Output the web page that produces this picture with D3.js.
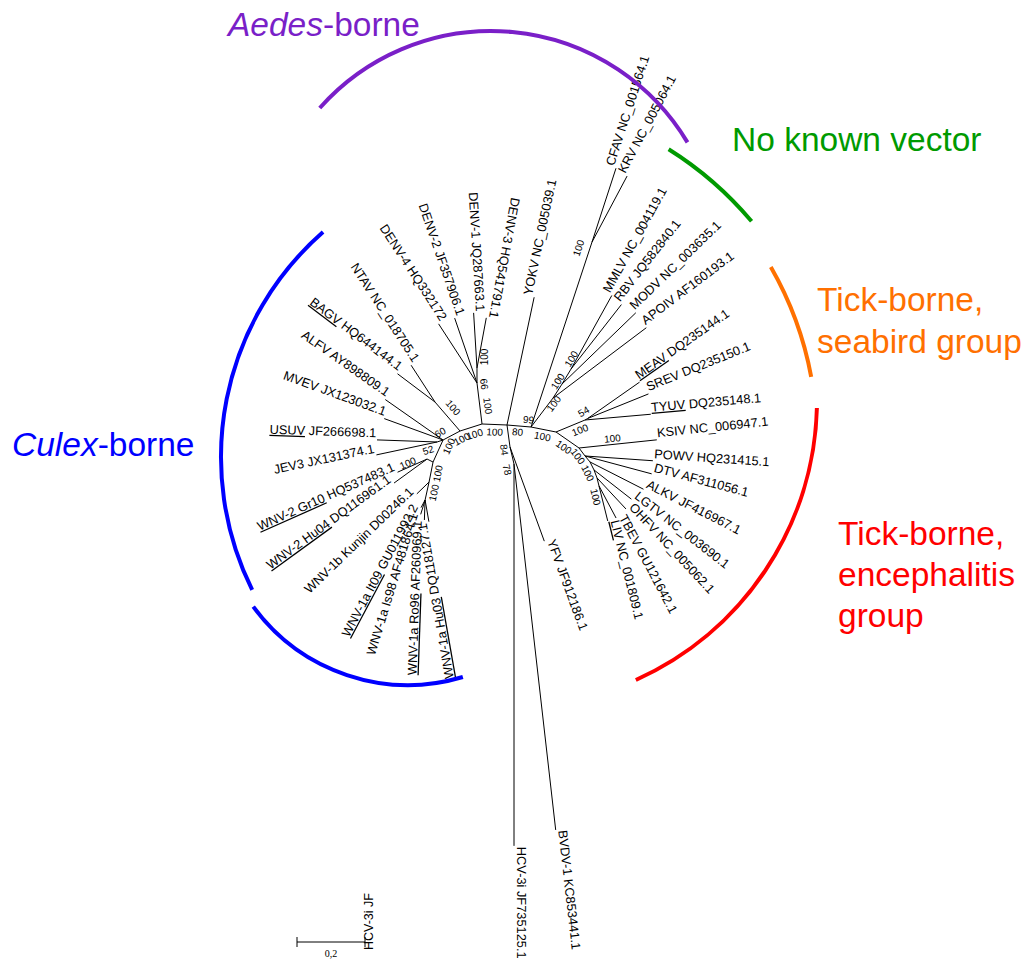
<!DOCTYPE html>
<html><head><meta charset="utf-8">
<script src="https://cdn.jsdelivr.net/npm/d3@7"></script>
<style>body{margin:0;background:#fff}</style>
</head><body>
<script>
// ---------------- DATA ----------------
// internal nodes: branch length (subst./site) and layout angle (deg, 0 = right, 90 = down)
const internalNodes = [
  {id:"R",   parent:null,  len:0,      ang:0},
  {id:"L1",  parent:"R",   len:0.0735, ang:182.3},
  {id:"DN",  parent:"L1",  len:0.1215, ang:-97},
  {id:"DD",  parent:"DN",  len:0.0441, ang:-90},
  {id:"L2",  parent:"L1",  len:0.0679, ang:162.3},
  {id:"NB",  parent:"L2",  len:0.1126, ang:-130.8},
  {id:"L3",  parent:"L2",  len:0.0565, ang:152.1},
  {id:"N52", parent:"L3",  len:0.0185, ang:161.6},
  {id:"L4",  parent:"L3",  len:0.0712, ang:114.4},
  {id:"W2",  parent:"L4",  len:0.0197, ang:206.6},
  {id:"L5",  parent:"L4",  len:0.0600, ang:101.3},
  {id:"L6",  parent:"L5",  len:0.0541, ang:102.5},
  {id:"R99", parent:"R",   len:0.0709, ang:4.8},
  {id:"CK",  parent:"R99", len:0.5729, ang:-71.75},
  {id:"N1",  parent:"R99", len:0.1071, ang:-52.8},
  {id:"N2",  parent:"N1",  len:0.0488, ang:-57.3},
  {id:"N3",  parent:"N2",  len:0.0515, ang:-59},
  {id:"S",   parent:"R99", len:0.0750, ang:11.3},
  {id:"N54", parent:"S",   len:0.0924, ang:-22.5},
  {id:"M",   parent:"N54", len:0.0088, ang:-30},
  {id:"T1",  parent:"S",   len:0.0824, ang:34.8},
  {id:"T2",  parent:"T1",  len:0.0294, ang:53.1},
  {id:"T3",  parent:"T2",  len:0.0229, ang:50.2},
  {id:"T4",  parent:"T3",  len:0.0262, ang:63.4},
  {id:"T5",  parent:"T4",  len:0.0250, ang:69.4},
  {id:"T6",  parent:"T5",  len:0.0241, ang:76},
  {id:"N84", parent:"R",   len:0.0653, ang:82.2},
  {id:"N78", parent:"N84", len:0.0515, ang:76.8}
];

const tips = [
  {name:"DENV-4", acc:"HQ332172",   parent:"DN",  len:0.2074, ang:-123},
  {name:"DENV-2", acc:"JF357906.1", parent:"DN",  len:0.2018, ang:-109},
  {name:"DENV-1", acc:"JQ287663.1", parent:"DD",  len:0.1624, ang:-93.5},
  {name:"DENV-3", acc:"HQ541791.1", parent:"DD",  len:0.1500, ang:-79.5},
  {name:"NTAV",   acc:"NC_018705.1",parent:"NB",  len:0.1291, ang:-123},
  {name:"BAGV",   acc:"HQ644144.1", parent:"NB",  len:0.1382, ang:-143, ul:true},
  {name:"ALFV",   acc:"AY898809.1", parent:"L3",  len:0.2074, ang:-145},
  {name:"MVEV",   acc:"JX123032.1", parent:"L3",  len:0.1841, ang:-160},
  {name:"USUV",   acc:"JF266698.1", parent:"N52", len:0.1768, ang:182, ul:true},
  {name:"JEV3",   acc:"JX131374.1", parent:"N52", len:0.1824, ang:168},
  {name:"WNV-2 Gr10", acc:"HQ537483.1", parent:"W2", len:0.0950, ang:156, ul:true},
  {name:"WNV-2 Hu04", acc:"DQ116961.1", parent:"W2", len:0.1200, ang:144, ul:true},
  {name:"WNV-1b Kunjin", acc:"D00246.1", parent:"L5", len:0.0500, ang:136},
  {name:"WNV-1a It09", acc:"GU011992.2", parent:"L6", len:0.0253, ang:118, ul:true},
  {name:"WNV-1a Is98", acc:"AF481864.1", parent:"L6", len:0.0441, ang:107},
  {name:"WNV-1a Ro96", acc:"AF260969.1", parent:"L6", len:0.0588, ang:92, ul:true},
  {name:"WNV-1a Hu03", acc:"DQ118127.1", parent:"L6", len:0.0647, ang:80, ul:true},
  {name:"YOKV",   acc:"NC_005039.1", parent:"R",   len:0.3841, ang:-78},
  {name:"CFAV",   acc:"NC_001564.1", parent:"CK",  len:0.2282, ang:-72},
  {name:"KRV",    acc:"NC_005064.1", parent:"CK",  len:0.2197, ang:-62},
  {name:"MMLV",   acc:"NC_004119.1", parent:"N3",  len:0.2474, ang:-61},
  {name:"RBV",    acc:"JQ582840.1",  parent:"N3",  len:0.2406, ang:-52},
  {name:"MODV",   acc:"NC_003635.1", parent:"N2",  len:0.3018, ang:-44},
  {name:"APOIV",  acc:"AF160193.1",  parent:"N1",  len:0.3435, ang:-37},
  {name:"MEAV",   acc:"DQ235144.1",  parent:"M",   len:0.1865, ang:-35, ul:true},
  {name:"SREV",   acc:"DQ235150.1",  parent:"M",   len:0.1929, ang:-22},
  {name:"TYUV",   acc:"DQ235148.1",  parent:"N54", len:0.1941, ang:-5, ul:true},
  {name:"KSIV",   acc:"NC_006947.1", parent:"T1",  len:0.2300, ang:-6},
  {name:"POWV",   acc:"HQ231415.1",  parent:"T2",  len:0.2000, ang:4},
  {name:"DTV",    acc:"AF311056.1",  parent:"T2",  len:0.2029, ang:15},
  {name:"ALKV",   acc:"JF416967.1",  parent:"T3",  len:0.1765, ang:27},
  {name:"LGTV",   acc:"NC_003690.1", parent:"T4",  len:0.1394, ang:38},
  {name:"OHFV",   acc:"NC_005062.1", parent:"T5",  len:0.1250, ang:47},
  {name:"TBEV",   acc:"GU121642.1",  parent:"T6",  len:0.1071, ang:62},
  {name:"LIV",    acc:"NC_001809.1", parent:"T6",  len:0.1065, ang:76, ul:true},
  {name:"YFV",    acc:"JF912186.1",  parent:"N84", len:0.2947, ang:70},
  {name:"HCV-3i", acc:"JF735125.1",  parent:"N78", len:1.1230, ang:90},
  {name:"BVDV-1", acc:"KC853441.1",  parent:"N78", len:1.0832, ang:83.5}
];

const bootstrap = [
  {node:"L1", value:100}, {node:"L2", value:100}, {node:"L3", value:100}, {node:"L3", value:60},
  {node:"L4", value:100}, {node:"NB", value:100}, {node:"N52", value:52}, {node:"WNV-2 Gr10", value:100},
  {node:"L5", value:100}, {node:"L6", value:100}, {node:"DN", value:100}, {node:"DN", value:66},
  {node:"DD", value:100}, {node:"R99", value:80}, {node:"R99", value:99}, {node:"S", value:100},
  {node:"N1", value:100}, {node:"N2", value:100}, {node:"N3", value:100}, {node:"CK", value:100},
  {node:"N54", value:100}, {node:"M", value:54}, {node:"T1", value:100}, {node:"KSIV", value:100},
  {node:"T2", value:100}, {node:"T4", value:100}, {node:"T6", value:100}, {node:"N84", value:84},
  {node:"N78", value:78}
];

const groupLines  = [["Aedes-borne"], ["No known vector"], ["Tick-borne,", "seabird group"], ["Culex-borne"], ["Tick-borne,", "encephalitis", "group"]];
const groupItalic = ["Aedes", "", "", "Culex", ""];

const scaleBarValue = 0.2;
const scaleBarLabel = "0,2";
const strayLabel = "HCV-3i JF";

// ---------------- LAYOUT / STYLE ----------------
const W = 1025, H = 961;
const FONT = "'Liberation Sans', Arial, Helvetica, sans-serif";
const rootPx = {x:507, y:425};
const pxPerUnit = 340;
// placement of bootstrap labels: [along branch from node (px), perpendicular (px)]
const bootOffset = [
  [-13,-7.5],[-13,-7.5],[-17,-8],[-1,8],
  [-21,-8],[-16,10],[11,-5],[-13,4],
  [-10,-7],[-9,-7],[-24,8],[-2,7],
  [11,8],[-13,6],[-3,-7],[-12.5,7],
  [-4,4],[0,-5],[9,-5],[-10,-11],
  [-8.5,7.3],[0,-8],[-13,8],[-44,-6],
  [-4,6],[0,7],[10,6],[2,6],
  [4,8]
];
const groupStyle = [
  {color:"#7a1fc8", x:228, y:36, lh:42, arcs:[{cx:491, cy:260, r:229, a0:-138.4, a1:-30.9}]},
  {color:"#009a00", x:732, y:151, lh:42, arcs:[{cx:480, cy:450, r:355, a0:-57.9, a1:-40.1}]},
  {color:"#ff7000", x:817, y:311, lh:42, arcs:[{cx:470, cy:440, r:347, a0:-29.9, a1:-10.5}]},
  {color:"#0000ff", x:12,  y:456, lh:42, arcs:[{cx:520, cy:457, r:299, a0:153.6, a1:228.8},{cx:408, cy:493, r:192, a0:73.4, a1:143.7}]},
  {color:"#ff0000", x:838, y:545, lh:41, arcs:[{cx:510, cy:400, r:307, a0:1.5, a1:65.8}]}
];

// ---------------- BUILD ----------------
const svg = d3.select("body").append("svg").attr("width", W).attr("height", H)
  .style("background", "#fff").style("display","block");

const x = d3.scaleLinear().domain([0, 1]).range([rootPx.x, rootPx.x + pxPerUnit]);
const y = d3.scaleLinear().domain([0, 1]).range([rootPx.y, rootPx.y + pxPerUnit]);
const rad = d => d * Math.PI / 180;

const byId = new Map();
const nodes = [];
function addNode(n) {
  const p = n.parent ? byId.get(n.parent) : null;
  const a = rad(n.ang || 0);
  const o = Object.assign({}, n, {
    p,
    ux: p ? p.ux + n.len * Math.cos(a) : 0,
    uy: p ? p.uy + n.len * Math.sin(a) : 0
  });
  byId.set(o.id, o); nodes.push(o);
}
internalNodes.forEach(addNode);
tips.forEach(t => addNode(Object.assign({}, t, {id: t.name, tip: true})));

// branches
svg.append("g").attr("stroke", "#000").attr("stroke-width", 1).attr("fill", "none")
  .selectAll("line").data(nodes.filter(d => d.p)).join("line")
  .attr("x1", d => x(d.p.ux)).attr("y1", d => y(d.p.uy))
  .attr("x2", d => x(d.ux)).attr("y2", d => y(d.uy));

// tip labels
const tl = svg.append("g").attr("font-family", FONT).attr("font-size", 12.8).attr("fill", "#000")
  .selectAll("text").data(nodes.filter(d => d.tip)).join("text")
  .attr("transform", d => {
    const flip = d.ux < 0;
    return `translate(${x(d.ux)},${y(d.uy)}) rotate(${flip ? d.ang + 180 : d.ang})`;
  })
  .attr("text-anchor", d => d.ux < 0 ? "end" : "start")
  .attr("x", d => d.ux < 0 ? -1 : 1)
  .attr("dy", -2.5);
tl.append("tspan").text(d => d.name).attr("text-decoration", d => d.ul ? "underline" : null);
tl.append("tspan").text(d => " " + d.acc);

// bootstrap labels
svg.append("g").attr("font-family", FONT).attr("font-size", 10).attr("fill", "#000")
  .selectAll("text").data(bootstrap).join("text")
  .attr("text-anchor", "middle").attr("dominant-baseline", "central")
  .attr("transform", (b, i) => {
    const n = byId.get(b.node);
    const a = rad(n.ang);
    const [al, pe] = bootOffset[i];
    const px = x(n.ux) + al * Math.cos(a) - pe * Math.sin(a);
    const py = y(n.uy) + al * Math.sin(a) + pe * Math.cos(a);
    const r = Math.cos(a) < -0.01 ? n.ang + 180 : n.ang;
    return `translate(${px},${py}) rotate(${r})`;
  })
  .text(b => b.value);

// group arcs and names
groupStyle.forEach((s, i) => {
  s.arcs.forEach(a => {
    const p = d3.path();
    p.arc(a.cx, a.cy, a.r, rad(a.a0), rad(a.a1));
    svg.append("path").attr("d", p.toString()).attr("fill", "none")
      .attr("stroke", s.color).attr("stroke-width", 4);
  });
  const t = svg.append("text").attr("font-family", FONT).attr("font-size", 33.5).attr("fill", s.color);
  groupLines[i].forEach((line, j) => {
    const it = groupItalic[i];
    if (j === 0 && it && line.startsWith(it)) {
      t.append("tspan").attr("x", s.x).attr("y", s.y + j * s.lh).attr("font-style", "italic").text(it);
      t.append("tspan").text(line.slice(it.length));
    } else {
      t.append("tspan").attr("x", s.x).attr("y", s.y + j * s.lh).text(line);
    }
  });
});

// scale bar
const sbX = 297, sbY = 942;
const sbLen = x(scaleBarValue) - x(0);
const sb = svg.append("g").attr("stroke", "#000").attr("stroke-width", 1);
sb.append("line").attr("x1", sbX).attr("x2", sbX + sbLen).attr("y1", sbY).attr("y2", sbY);
sb.append("line").attr("x1", sbX).attr("x2", sbX).attr("y1", sbY - 5).attr("y2", sbY + 5);
sb.append("line").attr("x1", sbX + sbLen).attr("x2", sbX + sbLen).attr("y1", sbY - 5).attr("y2", sbY + 5);
svg.append("text").attr("x", sbX + sbLen / 2).attr("y", 957).attr("text-anchor", "middle")
  .attr("font-family", "'Liberation Serif', 'Times New Roman', serif").attr("font-size", 10).text(scaleBarLabel);
svg.append("text").attr("transform", `translate(${sbX + sbLen + 8},950) rotate(-90)`)
  .attr("font-family", FONT).attr("font-size", 12.5).text(strayLabel);
</script>
</body></html>
